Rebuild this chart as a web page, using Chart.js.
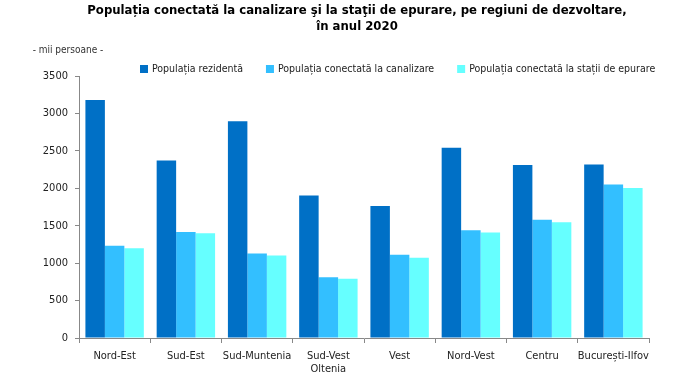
<!DOCTYPE html>
<html>
<head>
<meta charset="utf-8">
<script src="https://cdn.jsdelivr.net/npm/chart.js@4"></script>
<style>
  html, body { margin: 0; padding: 0; background: #fff; }
  #wrap { width: 700px; height: 390px; }
</style>
</head>
<body>
<div id="wrap"><canvas id="grafic"></canvas></div>
<script>
// Date (mii persoane)
const regiuni = ['Nord-Est', 'Sud-Est', 'Sud-Muntenia', ['Sud-Vest', 'Oltenia'], 'Vest', 'Nord-Vest', 'Centru', 'București-Ilfov'];
const rezidenta = [3180, 2372, 2897, 1905, 1764, 2541, 2310, 2318];
const canalizare = [1231, 1417, 1128, 813, 1111, 1439, 1581, 2052];
const epurare = [1199, 1399, 1102, 791, 1071, 1408, 1546, 2004];
const valoriAxa = [0, 500, 1000, 1500, 2000, 2500, 3000, 3500];

const titlu = ['Populația conectată la canalizare şi la staţii de epurare, pe regiuni de dezvoltare,', 'în anul 2020'];
const fontText = "'DejaVu Sans Condensed', 'Liberation Sans', sans-serif";

// titlul, unitatea de masura si legenda, desenate peste grafic
const extra = {
  id: 'extra',
  afterDraw(chart) {
    const c = chart.ctx;
    c.save();
    c.textBaseline = 'middle';
    c.textAlign = 'center';
    c.fillStyle = '#000';
    c.font = 'bold 13px ' + fontText;
    c.fillText(titlu[0], 357, 11);
    c.fillText(titlu[1], 357, 27);

    c.font = '10px ' + fontText;
    c.fillStyle = '#333';
    c.fillText('- mii persoane -', 68, 50);

    // legenda
    c.font = '10.5px ' + fontText;
    c.textAlign = 'left';
    let x = 140;
    const y = 69;
    chart.data.datasets.forEach(ds => {
      c.fillStyle = ds.backgroundColor;
      c.fillRect(x, y - 4, 8, 8);
      c.fillStyle = '#222';
      c.fillText(ds.label, x + 12, y);
      x += 12 + c.measureText(ds.label).width + 23;
    });
    c.restore();
  }
};

const ctx = document.getElementById('grafic').getContext('2d');
const grafic = new Chart(ctx, {
  type: 'bar',
  data: {
    labels: regiuni,
    datasets: [{
      label: 'Populația rezidentă',
      data: rezidenta,
      backgroundColor: '#0070C6'
    }, {
      label: 'Populația conectată la canalizare',
      data: canalizare,
      backgroundColor: '#33BFFF'
    }, {
      label: 'Populația conectată la stații de epurare',
      data: epurare,
      backgroundColor: '#66FFFF'
    }]
  },
  options: {
    responsive: true,
    maintainAspectRatio: false,
    animation: false,
    layout: { padding: { left: 0, right: 51, top: 76, bottom: 0 } },
    datasets: {
      bar: { categoryPercentage: 0.82, barPercentage: 1.0 }
    },
    plugins: {
      title: { display: false },
      legend: { display: false },
      tooltip: { enabled: false }
    },
    scales: {
      x: {
        grid: { display: true, drawOnChartArea: false, drawTicks: true, tickLength: 5, offset: true, color: '#888' },
        border: { color: '#888' },
        ticks: { color: '#222', autoSkip: false, font: { family: fontText, size: 11, lineHeight: 1.25 }, padding: 6, maxRotation: 0 },
        afterFit(scale) { scale.height = 52; }
      },
      y: {
        min: 0,
        max: 3500,
        afterBuildTicks(scale) { scale.ticks = valoriAxa.map(v => ({ value: v })); },
        grid: { display: true, drawOnChartArea: false, drawTicks: true, tickLength: 4, color: '#888' },
        border: { color: '#888' },
        ticks: { color: '#222', font: { family: fontText, size: 11 }, padding: 7, callback: v => String(v) },
        afterFit(scale) { scale.width = 79; }
      }
    }
  },
  plugins: [extra]
});
</script>
</body>
</html>
